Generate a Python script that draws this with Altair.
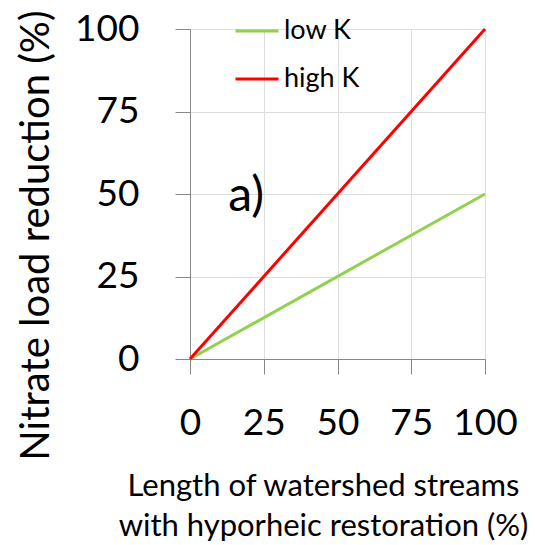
import altair as alt
import pandas as pd

# ---- data ----
x_vals = [0, 100]
low_k = [0, 50]
high_k = [0, 100]
series = ["low K", "high K"]
colors = ["#92D050", "#FF0000"]
x_ticks = [0, 25, 50, 75, 100]
y_ticks = [0, 25, 50, 75, 100]
panel_text = ["a)"]
panel_x = [13]
panel_y = [45]

rows = []
for name, ys in zip(series, [low_k, high_k]):
    for xv, yv in zip(x_vals, ys):
        rows.append({"x": xv, "y": yv, "series": name})
df = pd.DataFrame(rows)
ann = pd.DataFrame({"x": panel_x, "y": panel_y, "t": panel_text})

FONT = "Lato"
AX = "#bfbfbf"

lines = alt.Chart(df).mark_line(strokeWidth=3).encode(
    x=alt.X("x:Q", scale=alt.Scale(domain=[0, 100], nice=False),
            axis=alt.Axis(values=x_ticks, format="d", tickSize=15,
                          title=["Length of watershed streams", "with hyporheic restoration (%)"],
                          titleFontSize=31, titleFont=FONT, titleFontWeight="normal",
                          titleColor="black", titleX=133, titleY=136,
                          titleBaseline="alphabetic", titleAlign="center", titleLineHeight=40,
                          labelFontSize=37, labelFont=FONT, labelColor="black",
                          labelPadding=31, labelFlush=False, labelOverlap=False)),
    y=alt.Y("y:Q", scale=alt.Scale(domain=[0, 100], nice=False),
            axis=alt.Axis(values=y_ticks, format="d", tickSize=15,
                          title="Nitrate load reduction (%)",
                          titleFontSize=40, titleFont=FONT, titleFontWeight="normal",
                          titleColor="black", titleX=-142, titleY=206, titleAngle=-90,
                          titleBaseline="alphabetic", titleAlign="center",
                          labelFontSize=37, labelFont=FONT, labelColor="black",
                          labelPadding=36, labelFlush=False, labelOverlap=False)),
    color=alt.Color("series:N", scale=alt.Scale(domain=series, range=colors),
                    legend=alt.Legend(title=None, orient="none", legendX=44, legendY=-21,
                                      symbolType="stroke", symbolSize=1849,
                                      symbolStrokeWidth=3, labelFontSize=27,
                                      labelFont=FONT, labelColor="black",
                                      rowPadding=12, labelOffset=4, padding=0)),
    order=alt.Order("series:N", sort="descending"),
)

text = alt.Chart(ann).mark_text(fontSize=48, font=FONT, align="left",
                                baseline="alphabetic", color="black").encode(
    x="x:Q", y="y:Q", text="t:N")

chart = alt.layer(lines, text).properties(
    width=295, height=330,
    autosize=alt.AutoSizeParams(type="none"),
    padding={"left": 190, "top": 29, "right": 50, "bottom": 186},
).configure_view(stroke=None).configure_axis(
    grid=False, domainColor=AX, tickColor=AX, domainWidth=1.5, tickWidth=1.5, tickSize=15,
).configure(background="white")

chart.save("out.html", embed_options={"renderer": "svg", "actions": False})
